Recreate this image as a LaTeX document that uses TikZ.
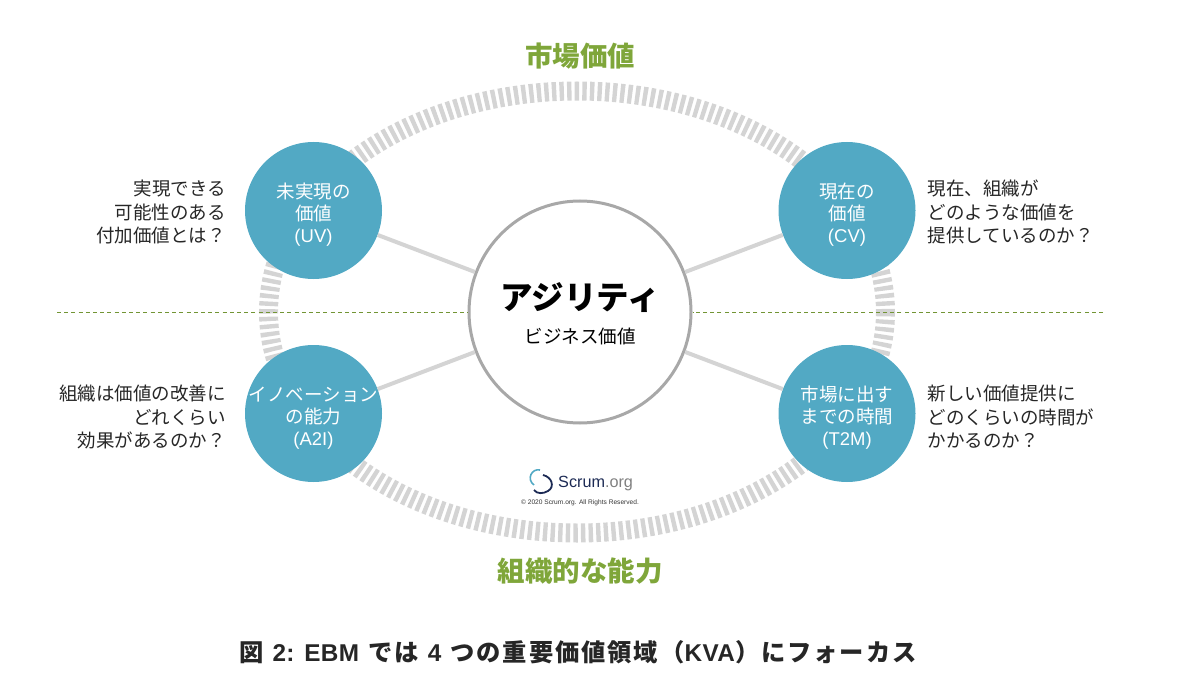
\documentclass[tikz,border=0pt]{standalone}
\usepackage{fontspec}
\setmainfont{Noto Sans CJK JP}
\newfontfamily\latinfont{Liberation Sans}
\newfontfamily\captionfont[LetterSpace=8]{Noto Sans CJK JP}
\newfontfamily\captionlatin[LetterSpace=2]{Liberation Sans}
\definecolor{kvateal}{RGB}{82,169,196}
\definecolor{kvagreen}{RGB}{127,166,58}
\definecolor{kvaring}{RGB}{212,212,212}
\definecolor{kvagray}{RGB}{168,168,168}
\definecolor{kvanavy}{RGB}{28,42,84}

\begin{document}
\begin{tikzpicture}[
    x=1pt, y=-1pt,
    kva/.style={circle, fill=kvateal, minimum size=137pt, inner sep=0pt},
    kvatext/.style={text=white, align=center, yshift=-4.5pt, font=\fontsize{18.5}{22}\selectfont},
    hub/.style={circle, draw=kvagray, line width=3pt, fill=white, minimum size=222pt, inner sep=0pt, align=center},
    ask/.style={align=left, font=\fontsize{18.5}{23.5}\selectfont, text=black!85},
    askleft/.style={ask, align=right},
    heading/.style={font=\fontsize{27.5}{30}\selectfont\bfseries, text=kvagreen},
    spoke/.style={line width=4pt, kvaring},
    divider/.style={line width=1pt, kvagreen!90!black, dash pattern=on 4pt off 3.2pt},
    ringline/.style={line width=19pt, kvaring, dash pattern=on 4.4pt off 3.2pt}
]
    \useasboundingbox (0,0) rectangle (1200,698);
    % Dashed ring behind everything
    \draw[ringline] (577,312) ellipse [x radius=308.5, y radius=221];

    % Hub and the four value areas
    \node[hub] (agility) at (580,312) {};
    \node[align=center] (agilitytext) at ([yshift=-2pt]agility.center) {{\fontsize{32.5}{38}\selectfont\bfseries アジリティ}\\[14pt] {\fontsize{18.5}{23}\selectfont ビジネス価値}};
    \node[kva, label={[kvatext]center:未実現の\\価値\\{\latinfont (UV)}}] (uv) at (313.5,210.5) {};
    \node[kva, label={[kvatext]center:現在の\\価値\\{\latinfont (CV)}}] (cv) at (847,210.5) {};
    \node[kva, label={[kvatext]center:イノベーション\\の能力\\{\latinfont (A2I)}}] (a2i) at (313.5,413.5) {};
    \node[kva, label={[kvatext]center:市場に出す\\までの時間\\{\latinfont (T2M)}}] (t2m) at (847,413.5) {};

    % Headings
    \node[heading] (market) at (580,56) {市場価値};
    \node[heading] (ability) at (580,571) {組織的な能力};
    \node[font=\fontsize{24.3}{28}\captionfont\bfseries, text=black!85] (caption) at (578,652) {図\hspace{9pt}{\captionlatin 2: EBM}\hspace{9pt}では\hspace{9pt}{\captionlatin 4}\hspace{9pt}つの重要価値領域（{\captionlatin KVA}）にフォーカス};

    % Questions
    \node[askleft, anchor=east] (uvask) at (229.5,212) {実現できる\\可能性のある\\付加価値とは？};
    \node[ask, anchor=west] (cvask) at (924,212) {現在、組織が\\どのような価値を\\提供しているのか？};
    \node[askleft, anchor=east] (a2iask) at (229.5,417) {組織は価値の改善に\\どれくらい\\効果があるのか？};
    \node[ask, anchor=west] (t2mask) at (924,417) {新しい価値提供に\\どのくらいの時間が\\かかるのか？};

    % Logo
    \draw[kvateal, line width=1.6pt] (540,470) .. controls (532,468) and (526,479) .. (534,485);
    \draw[kvanavy, line width=1.8pt] (543,475) .. controls (552,477) and (555,487) .. (548,491) .. controls (543,494) and (537,494) .. (534,490);
    \node[anchor=west, inner sep=0pt, font=\latinfont\fontsize{16.2}{20}\selectfont, text=kvanavy] (logo) at (558,484) {Scrum\textcolor{gray}{.org}};
    \node[font=\latinfont\fontsize{6.6}{8}\selectfont, text=black!80] (copy) at (580,503) {© 2020 Scrum.org. All Rights Reserved.};

    % Divider
    \coordinate (divleft) at (57,312);
    \coordinate (divright) at (1103,312);
    \draw[divider] (divleft) -- (agility);
    \draw[divider] (divright) -- (agility);

    % Spokes
    \draw[spoke] (uv) -- (agility);
    \draw[spoke] (cv) -- (agility);
    \draw[spoke] (a2i) -- (agility);
    \draw[spoke] (t2m) -- (agility);
\end{tikzpicture}
\end{document}
